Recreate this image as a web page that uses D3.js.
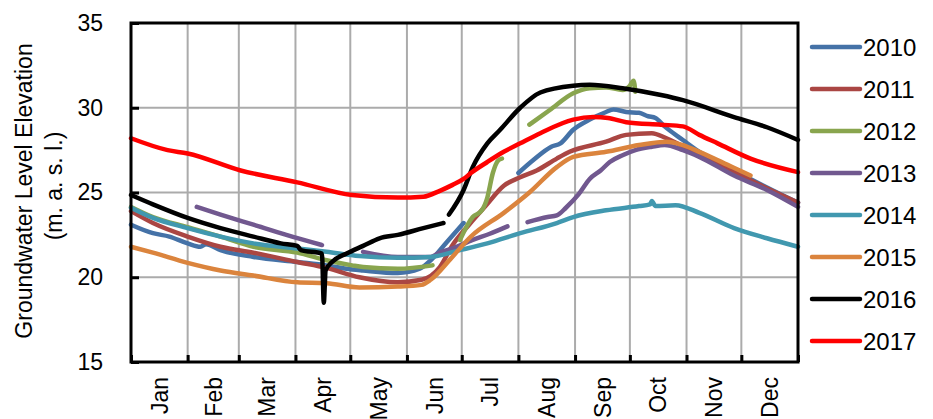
<!DOCTYPE html>
<html>
<head>
<meta charset="utf-8">
<script src="https://cdn.jsdelivr.net/npm/d3@7"></script>
<style>
  body { margin: 0; background: #fff; }
  svg { display: block; font-family: "Liberation Sans", Arial, sans-serif; }
</style>
</head>
<body>
<svg id="chart" width="933" height="419"></svg>
<script>
// month names and the day-of-year where each month starts
var months = ["Jan", "Feb", "Mar", "Apr", "May", "Jun", "Jul", "Aug", "Sep", "Oct", "Nov", "Dec"];
var monthStarts = [0, 31, 59, 90, 120, 151, 181, 212, 243, 273, 304, 334, 365];
var yTicks = [15, 20, 25, 30, 35];
var years = ["2010", "2011", "2012", "2013", "2014", "2015", "2016", "2017"];
var colors = ["#4572A7", "#AA4643", "#89A54E", "#71588F", "#4198AF", "#DB843D", "#000000", "#FF0000"];

// [day of year, level in m a.s.l.]; null level = gap in record
var gw2010 = [[0,23.1],[12,22.6],[21,22.4],[31,22.0],[38,21.8],[41,21.95],[49,21.6],[67,21.2],[91,20.9],[107,20.7],
  [118,20.5],[127,20.4],[146,20.25],[158,20.5],[164,21.0],[173,22.1],[182,23.2],[197,null],
  [212,26.15],[220,26.9],[230,27.7],[235,27.9],[242,28.7],[251,29.3],[260,29.75],[264,29.9],[271,29.75],
  [278,29.7],[283,29.5],[287,29.4],[292,28.9],[302,28.1],[311,27.4],[330,26.3],[348,25.3],[365,24.4]];
var gw2011 = [[0,23.9],[12,23.2],[31,22.4],[49,21.8],[67,21.45],[91,20.9],[107,20.55],[125,20.0],[146,19.7],
  [159,19.85],[169,20.6],[176,21.9],[185,23.1],[194,24.2],[204,25.4],[213,25.9],[222,26.3],[233,27.0],
  [240,27.4],[260,28.0],[271,28.4],[285,28.5],[293,28.2],[311,27.2],[330,26.2],[348,25.25],[365,24.4]];
var gw2012 = [[0,24.15],[12,23.55],[31,22.95],[49,22.4],[67,21.8],[91,21.45],[107,21.0],[121,20.7],[127,20.6],
  [146,20.5],[165,20.7],[172,null],[180,22.2],[187,23.55],[192,23.95],[195,24.7],[198,26.15],[201,26.9],
  [203,27.0],[210,null],[218,29.0],[229,29.85],[242,30.85],[251,31.15],[260,31.2],[269,31.05],[273,31.3],
  [275,31.6],[276,30.95]];
var gw2013 = [[36,24.15],[49,23.7],[67,23.1],[85,22.5],[104.5,21.9],[115,null],[127,21.5],[146,21.2],[164,21.2],
  [169,21.45],[176,21.7],[187,22.2],[196,22.55],[206,23.0],[211,null],[217,23.25],[228,23.55],[233,23.65],
  [238,24.1],[245,24.9],[251,25.8],[257,26.3],[262,26.8],[269,27.2],[276,27.5],[285,27.7],[292,27.8],
  [302,27.5],[311,27.1],[330,26.0],[348,25.15],[365,24.15]];
var gw2014 = [[0,24.1],[12,23.5],[31,22.9],[49,22.4],[67,22.0],[91,21.7],[107,21.5],[125,21.25],[146,21.15],
  [164,21.2],[180,21.6],[195,22.0],[213,22.6],[233,23.2],[242,23.55],[260,23.95],[278,24.2],[284,24.3],
  [285,24.5],[287,24.2],[298,24.25],[311,23.8],[330,22.9],[348,22.3],[365,21.8]];
var gw2015 = [[0,21.8],[12,21.45],[31,20.85],[49,20.4],[67,20.1],[91,19.7],[107,19.65],[125,19.4],[146,19.45],
  [159,19.55],[164,19.85],[175,21.1],[186,22.4],[204,23.8],[218,25.0],[233,26.5],[242,27.1],[260,27.4],
  [278,27.8],[293,28.0],[302,27.8],[311,27.4],[329,26.5],[339,26.0]];
var gw2016 = [[0,24.85],[12,24.3],[31,23.5],[49,22.9],[67,22.4],[82,22.0],[91,21.85],[93,21.6],[104.5,21.4],
  [105.5,18.5],[106.5,20.4],[110,20.9],[118,21.4],[127,21.85],[136,22.3],[146,22.5],[160,22.9],[171,23.2],
  [172,null],[174,23.7],[182,25.15],[187,26.5],[195,27.9],[202,28.7],[213,30.0],[224,30.9],[242,31.3],
  [251,31.35],[269,31.15],[290,30.75],[302,30.45],[330,29.45],[348,28.85],[365,28.1]];
var gw2017 = [[0,28.2],[20,27.5],[31,27.3],[60,26.3],[91,25.6],[121,24.85],[146,24.7],[160,24.75],[169,25.1],
  [176,25.45],[182,25.8],[186,26.15],[195,26.8],[204,27.4],[213,27.9],[224,28.5],[242,29.3],[253,29.45],
  [261,29.4],[271,29.15],[290,29.0],[302,28.9],[311,28.4],[321,27.9],[339,27.0],[365,26.2]];
var seriesValues = [gw2010, gw2011, gw2012, gw2013, gw2014, gw2015, gw2016, gw2017];

var svg = d3.select("#chart");
var plotLeft = 131, plotRight = 798, plotTop = 23, plotBottom = 362;

var x = d3.scaleLinear().domain([0, 365]).range([plotLeft, plotRight]);
var y = d3.scaleLinear().domain([15, 35]).range([plotBottom, plotTop]);

// grid
svg.append("g")
  .selectAll("line")
  .data(monthStarts.slice(1, -1))
  .join("line")
  .attr("x1", d => x(d)).attr("x2", d => x(d))
  .attr("y1", plotTop).attr("y2", plotBottom)
  .style("stroke", "#ababab")
  .style("stroke-width", 2);

svg.append("g")
  .selectAll("line")
  .data(yTicks.slice(1, -1))
  .join("line")
  .attr("x1", plotLeft).attr("x2", plotRight)
  .attr("y1", d => y(d)).attr("y2", d => y(d))
  .style("stroke", "#ababab")
  .style("stroke-width", 2);

// series
var line = d3.line()
  .defined(d => d[1] != null)
  .x(d => x(d[0]))
  .y(d => y(d[1]))
  .curve(d3.curveMonotoneX);

svg.append("g")
  .selectAll("path")
  .data(seriesValues)
  .join("path")
  .attr("d", line)
  .style("fill", "none")
  .style("stroke", (d, i) => colors[i])
  .style("stroke-width", 4.5)
  .style("stroke-linecap", "round")
  .style("stroke-linejoin", "round");

// frame
svg.append("rect")
  .attr("x", plotLeft).attr("y", plotTop)
  .attr("width", plotRight - plotLeft).attr("height", plotBottom - plotTop)
  .style("fill", "none")
  .style("stroke", "#000")
  .style("stroke-width", 3);

// axes with inward ticks
var yAxis = svg.append("g")
  .attr("transform", "translate(" + plotLeft + ",0)")
  .call(d3.axisLeft(y).tickValues(yTicks).tickSize(-8).tickPadding(28));
yAxis.select(".domain").remove();
yAxis.selectAll("line").style("stroke", "#000").style("stroke-width", 3);
yAxis.selectAll("text")
  .style("font-size", "23px")
  .style("font-family", "Liberation Sans, Arial, sans-serif")
  .style("fill", "#000");

var xAxis = svg.append("g")
  .attr("transform", "translate(0," + plotBottom + ")")
  .call(d3.axisBottom(x).tickValues(monthStarts).tickSize(-7).tickFormat(""));
xAxis.select(".domain").remove();
xAxis.selectAll("line").style("stroke", "#000").style("stroke-width", 3);

svg.append("g")
  .selectAll("text")
  .data(months)
  .join("text")
  .attr("transform", (d, i) => "translate(" + x((monthStarts[i] + monthStarts[i + 1]) / 2) + ",377) rotate(-90)")
  .attr("dy", "0.36em")
  .style("text-anchor", "end")
  .style("font-size", "23px")
  .text(d => d);

// y title
svg.append("text")
  .attr("transform", "translate(32,191) rotate(-90)")
  .style("text-anchor", "middle")
  .style("font-size", "23px")
  .text("Groundwater Level Elevation");
svg.append("text")
  .attr("transform", "translate(62,186) rotate(-90)")
  .style("text-anchor", "middle")
  .style("font-size", "23px")
  .text("(m. a. s. l.)");

// legend
var legend = svg.append("g")
  .selectAll("g")
  .data(years)
  .join("g")
  .attr("transform", (d, i) => "translate(812," + (47 + i * 42) + ")");
legend.append("line")
  .attr("x1", 0).attr("x2", 48)
  .style("stroke", (d, i) => colors[i])
  .style("stroke-width", 4.5)
  .style("stroke-linecap", "round");
legend.append("text")
  .attr("x", 51)
  .attr("dy", "0.36em")
  .style("font-size", "24px")
  .text(d => d);
</script>
</body>
</html>
